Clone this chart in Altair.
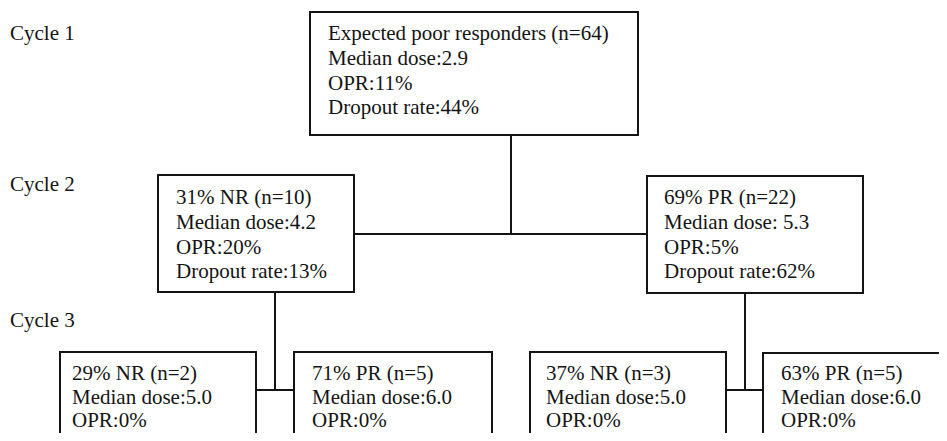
import altair as alt
import pandas as pd

# ---- content ----
cycle_labels = ["Cycle 1", "Cycle 2", "Cycle 3"]
node_ids = ["root", "c2_nr", "c2_pr", "c3_nr_nr", "c3_nr_pr", "c3_pr_nr", "c3_pr_pr"]
node_lines = [
    ["Expected poor responders (n=64)", "Median dose:2.9", "OPR:11%", "Dropout rate:44%"],
    ["31% NR (n=10)", "Median dose:4.2", "OPR:20%", "Dropout rate:13%"],
    ["69% PR (n=22)", "Median dose: 5.3", "OPR:5%", "Dropout rate:62%"],
    ["29% NR (n=2)", "Median dose:5.0", "OPR:0%"],
    ["71% PR (n=5)", "Median dose:6.0", "OPR:0%"],
    ["37% NR (n=3)", "Median dose:5.0", "OPR:0%"],
    ["63% PR (n=5)", "Median dose:6.0", "OPR:0%"],
]

# ---- layout (diagram coordinates, pixel-like) ----
cycle_label_x = [10, 10, 10]
cycle_label_y = [40, 191, 327]

box_x1 = [310, 158, 647, 60, 294, 530, 763]
box_x2 = [638, 354, 863, 256, 492, 726, 990]
box_y1 = [12, 175, 176, 352, 352, 352, 353]
box_y2 = [135, 292, 293, 480, 480, 480, 480]
text_x = [328, 176, 664, 72, 312, 546, 781]
text_y0 = [40, 204, 204, 380, 380, 380, 380]
line_step = [24.8, 24.8, 24.8, 23.5, 23.5, 23.5, 23.5]

seg_x1 = [511, 354, 275, 256, 745, 726]
seg_x2 = [511, 647, 275, 294, 745, 763]
seg_y1 = [135, 234, 292, 390, 293, 390]
seg_y2 = [234, 234, 390, 390, 390, 390]

# ---- tables ----
boxes = pd.DataFrame({"id": node_ids, "x": box_x1, "x2": box_x2, "y": box_y1, "y2": box_y2})
rows = []
for nid, lines, tx, ty, st in zip(node_ids, node_lines, text_x, text_y0, line_step):
    for i, t in enumerate(lines):
        rows.append({"id": nid, "text": t, "x": tx, "y": ty + i * st})
texts = pd.DataFrame(rows)
cycles = pd.DataFrame({"text": cycle_labels, "x": cycle_label_x, "y": cycle_label_y})
segs = pd.DataFrame({"x": seg_x1, "x2": seg_x2, "y": seg_y1, "y2": seg_y2})

W, H = 931, 425
xs = alt.Scale(domain=[8, 8 + W], nice=False, zero=False)
ys = alt.Scale(domain=[8, 8 + H], nice=False, zero=False, reverse=True)
INK = "#141414"
FONT = "Times New Roman, Liberation Serif, DejaVu Serif, serif"

box_layer = alt.Chart(boxes).mark_rect(
    fillOpacity=0, stroke=INK, strokeWidth=2, clip=True
).encode(
    x=alt.X("x:Q", scale=xs, axis=None), x2="x2:Q",
    y=alt.Y("y:Q", scale=ys, axis=None), y2="y2:Q",
)

seg_layer = alt.Chart(segs).mark_rule(color=INK, strokeWidth=2).encode(
    x=alt.X("x:Q", scale=xs, axis=None), x2="x2:Q",
    y=alt.Y("y:Q", scale=ys, axis=None), y2="y2:Q",
)

text_layer = alt.Chart(texts).mark_text(
    align="left", baseline="alphabetic", font=FONT, fontSize=21, color=INK
).encode(
    x=alt.X("x:Q", scale=xs, axis=None),
    y=alt.Y("y:Q", scale=ys, axis=None),
    text="text:N",
)

cycle_layer = alt.Chart(cycles).mark_text(
    align="left", baseline="alphabetic", font=FONT, fontSize=21, color=INK
).encode(
    x=alt.X("x:Q", scale=xs, axis=None),
    y=alt.Y("y:Q", scale=ys, axis=None),
    text="text:N",
)

chart = alt.layer(box_layer, seg_layer, text_layer, cycle_layer).properties(
    width=W, height=H, padding=0, autosize=alt.AutoSizeParams(type="none"),
    background="white",
).configure_view(strokeWidth=0)

chart.save("out.html", embed_options={"renderer": "svg", "actions": False})
